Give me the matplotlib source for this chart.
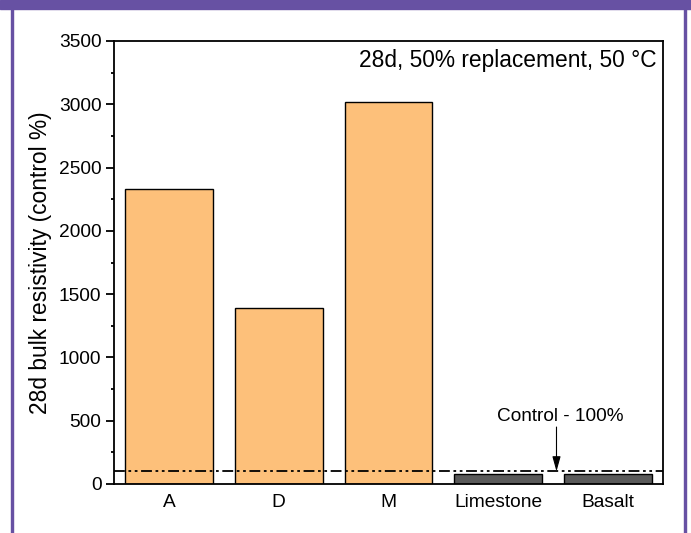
import matplotlib
matplotlib.use("Agg")
import matplotlib.pyplot as plt
from matplotlib.patches import Rectangle
from matplotlib.ticker import MultipleLocator

plt.rcParams['font.family'] = ['Liberation Sans', 'DejaVu Sans']

categories = ['A', 'D', 'M', 'Limestone', 'Basalt']
values = [2328, 1388, 3015, 78, 80]
colors = ['#FDC07A', '#FDC07A', '#FDC07A', '#5A5A5A', '#5A5A5A']
control = 100

fig = plt.figure(figsize=(6.91, 5.33), dpi=100)

# purple frame of the source page
purple = '#6751A3'
fig.patches.append(Rectangle((0, 1 - 9 / 533), 1, 9 / 533, transform=fig.transFigure,
                             color=purple, zorder=0))
fig.patches.append(Rectangle((11 / 691, 0), 2 / 691, 1, transform=fig.transFigure,
                             color=purple, zorder=0))
fig.patches.append(Rectangle((684 / 691, 0), 2 / 691, 1, transform=fig.transFigure,
                             color=purple, zorder=0))

ax = fig.add_axes([114 / 691, 49 / 533, 549 / 691, 443 / 533])
x = list(range(1, len(categories) + 1))
ax.bar(x, values, width=0.8, color=colors, edgecolor='black', linewidth=1)
ax.axhline(control, color='black', linewidth=1.3, linestyle=(0, (6, 2, 1.5, 2, 1.5, 2)))

ax.set_xlim(0.5, 5.5)
ax.set_ylim(0, 3500)
ax.set_xticks(x)
ax.set_xticklabels(categories, fontsize=13.8)
ax.yaxis.set_major_locator(MultipleLocator(500))
ax.yaxis.set_minor_locator(MultipleLocator(250))
ax.tick_params(axis='y', which='major', length=5.5, width=1.3, labelsize=13.8, direction='out')
ax.tick_params(axis='y', which='minor', length=2.5, width=1.3, direction='out')
ax.tick_params(axis='x', length=0, pad=7)
for s in ax.spines.values():
    s.set_linewidth(1.3)

ax.set_ylabel('28d bulk resistivity (control %)', fontsize=16.4, labelpad=5)

ax.text(0.989, 0.955, '28d, 50% replacement, 50 °C', transform=ax.transAxes,
        ha='right', va='center', fontsize=16.4)

ax.text(4.56, 530, 'Control - 100%', ha='center', va='center', fontsize=13.7)
ax.annotate('', xy=(4.53, control), xytext=(4.53, 450),
            arrowprops=dict(arrowstyle='-|>,head_length=0.9,head_width=0.25',
                            color='black', lw=0.8, mutation_scale=10,
                            shrinkA=0, shrinkB=0))

fig.savefig('out.png', dpi=100)
